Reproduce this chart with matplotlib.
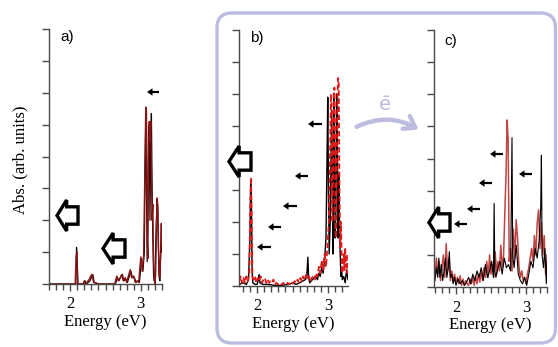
import matplotlib.pyplot as plt
from matplotlib.patches import Polygon, FancyBboxPatch, FancyArrowPatch, FancyArrow
from matplotlib.ticker import MultipleLocator

W, H = 558, 347

# ---- panel a) spectra ----
ea_red = [1.70, 2.07, 2.085, 2.095, 2.105, 2.18, 2.20, 2.22, 2.27, 2.29, 2.31, 2.33, 2.40, 2.63,
          2.66, 2.68, 2.71, 2.73, 2.75, 2.78, 2.80, 2.83, 2.85, 2.87, 2.90, 2.92, 2.95, 2.97, 2.99,
          3.00, 3.02, 3.04, 3.06, 3.07, 3.08, 3.09, 3.10, 3.11, 3.12, 3.13, 3.14, 3.15, 3.16, 3.17,
          3.18, 3.19, 3.20, 3.21, 3.23, 3.24, 3.25, 3.26, 3.27, 3.28, 3.29, 3.30]
ia_red = [0, 0, 0.9, 1.0, 0, 0, 0.1, 0, 0.15, 0.25, 0.3, 0.05, 0, 0,
          0.25, 0.1, 0.2, 0.3, 0.1, 0.2, 0.05, 0.3, 0.45, 0.2, 0.25, 0.05, 0.1, 0.05, 0.6,
          0.85, 0.4, 0.9, 4.0, 5.55, 5.4, 1.5, 0.8, 4.0, 5.1, 4.5, 5.1, 3.5, 2.0, 2.5,
          0.8, 0.2, 0.0, 0.3, 2.7, 2.5, 1.2, 0.3, 0.2, 1.0, 1.9, 1.2]
ea_blk = [1.70, 2.08, 2.09, 2.10, 2.11, 2.19, 2.21, 2.23, 2.28, 2.30, 2.32, 2.34, 2.41, 2.64,
          2.67, 2.69, 2.72, 2.74, 2.76, 2.79, 2.81, 2.84, 2.86, 2.88, 2.91, 2.93, 2.96, 2.98, 3.00,
          3.01, 3.03, 3.05, 3.06, 3.07, 3.08, 3.09, 3.10, 3.11, 3.12, 3.13, 3.14, 3.15, 3.16, 3.17,
          3.18, 3.19, 3.20, 3.22, 3.23, 3.24, 3.25, 3.26, 3.27, 3.28, 3.29, 3.30]
ia_blk = [0, 0, 1.15, 0.7, 0, 0, 0.1, 0, 0.1, 0.2, 0.3, 0.05, 0, 0,
          0.2, 0.1, 0.25, 0.3, 0.1, 0.15, 0.05, 0.25, 0.4, 0.2, 0.2, 0.05, 0.1, 0.05, 0.5,
          0.8, 0.4, 1.0, 3.5, 5.2, 3.0, 0.7, 3.0, 4.8, 5.0, 2.0, 4.5, 5.35, 3.0, 1.5,
          0.3, 0.1, 0.2, 2.0, 2.6, 2.4, 1.0, 0.2, 0.1, 0.8, 1.7, 1.0]

# ---- panel b) spectra ----
eb_red = [1.75, 1.77, 1.79, 1.81, 1.83, 1.85, 1.87, 1.89, 1.905, 1.915, 1.925, 1.935, 1.95,
          1.97, 1.99, 2.01, 2.03, 2.05, 2.07, 2.09, 2.11, 2.13, 2.15, 2.17, 2.19, 2.21, 2.23,
          2.25, 2.27, 2.29, 2.31, 2.33, 2.35, 2.37, 2.39, 2.41, 2.43, 2.45, 2.47, 2.49, 2.51,
          2.53, 2.55, 2.57, 2.59, 2.61, 2.63, 2.65, 2.67, 2.69, 2.71, 2.73, 2.75, 2.77, 2.79,
          2.81, 2.83, 2.85, 2.87, 2.89, 2.91, 2.93, 2.95, 2.97, 2.99, 3.01, 3.03,
          3.04, 3.05, 3.06, 3.07, 3.08, 3.09, 3.10, 3.11, 3.12, 3.13, 3.14, 3.15, 3.16, 3.17,
          3.18, 3.19, 3.20, 3.21, 3.22, 3.23, 3.24, 3.25, 3.26, 3.27, 3.28]
ib_red = [0.15, 0.3, 0.1, 0.25, 0.1, 0.3, 0.15, 0.4, 2.5, 3.4, 2.0, 0.3, 0.2,
          0.3, 0.1, 0.25, 0.15, 0.3, 0.1, 0.2, 0.25, 0.1, 0.2, 0.1, 0.15, 0.1, 0.2,
          0.05, 0.1, 0.05, 0.1, 0.05, 0.05, 0.1, 0.05, 0.05, 0.1, 0.05, 0.1, 0.05, 0.1,
          0.15, 0.1, 0.2, 0.1, 0.25, 0.15, 0.3, 0.2, 0.35, 0.2, 0.3, 0.15, 0.25, 0.3,
          0.2, 0.4, 0.3, 0.6, 0.4, 0.8, 0.5, 1.0, 0.6, 1.2, 2.0, 4.5,
          6.0, 5.5, 2.0, 3.5, 6.1, 6.2, 4.0, 1.5, 3.0, 5.8, 6.5, 6.3, 3.0, 1.2,
          2.0, 1.0, 0.4, 0.8, 1.0, 0.5, 1.2, 0.6, 1.0, 0.4, 0.7]
eb_blk = [1.75, 1.80, 1.85, 1.88, 1.90, 1.91, 1.92, 1.93, 1.94, 1.97, 2.00, 2.02, 2.03, 2.04,
          2.08, 2.15, 2.25, 2.35, 2.45, 2.50, 2.55, 2.60, 2.64, 2.68, 2.70, 2.715, 2.725, 2.74,
          2.78, 2.82, 2.85, 2.87, 2.89, 2.91, 2.93, 2.95, 2.97, 2.985, 2.995, 3.005, 3.015,
          3.03, 3.05, 3.06, 3.07, 3.08, 3.09, 3.10, 3.11, 3.12, 3.13, 3.14, 3.15, 3.16, 3.17,
          3.18, 3.19, 3.20, 3.22, 3.24, 3.26, 3.28]
ib_blk = [0.05, 0.1, 0.05, 0.2, 1.5, 3.3, 2.8, 0.5, 0.1, 0.05, 0.05, 0.2, 0.35, 0.1,
          0.05, 0.05, 0.02, 0.02, 0.05, 0.1, 0.05, 0.1, 0.15, 0.2, 0.3, 0.9, 0.3, 0.1,
          0.2, 0.3, 0.2, 0.4, 0.3, 0.6, 0.4, 0.8, 1.5, 4.0, 5.9, 3.0, 1.0,
          2.0, 5.5, 3.0, 1.0, 6.0, 4.0, 1.5, 2.5, 6.0, 5.0, 1.5, 3.5, 2.0, 1.0,
          0.3, 0.5, 0.2, 0.3, 0.1, 0.5, 0.2]

# ---- panel c) spectra ----
ec_red = [1.70, 1.72, 1.74, 1.76, 1.78, 1.80, 1.82, 1.84, 1.86, 1.88, 1.90, 1.92, 1.94, 1.96,
          1.98, 2.00, 2.02, 2.04, 2.06, 2.08, 2.10, 2.12, 2.14, 2.16, 2.18, 2.20, 2.22, 2.24,
          2.26, 2.28, 2.30, 2.32, 2.34, 2.36, 2.38, 2.40, 2.42, 2.44, 2.46, 2.48, 2.50, 2.52,
          2.54, 2.56, 2.58, 2.60, 2.62, 2.64, 2.66, 2.68, 2.70, 2.715, 2.73, 2.745, 2.76,
          2.78, 2.80, 2.82, 2.84, 2.86, 2.88, 2.90, 2.92, 2.94, 2.96, 2.98, 3.00, 3.02, 3.04,
          3.06, 3.08, 3.10, 3.12, 3.14, 3.16, 3.18, 3.20, 3.22, 3.24, 3.26, 3.28, 3.30]
ic_red = [0.3, 0.9, 0.4, 0.8, 0.2, 0.6, 1.0, 0.3, 1.35, 0.5, 0.9, 0.2, 0.5, 0.15,
          0.4, 0.1, 0.3, 0.1, 0.35, 0.05, 0.25, 0.05, 0.2, 0.1, 0.05, 0.25, 0.1, 0.3,
          0.05, 0.35, 0.1, 0.4, 0.15, 0.5, 0.2, 0.6, 0.3, 0.8, 0.3, 1.0, 0.4, 0.7,
          0.3, 1.1, 0.4, 0.8, 0.5, 1.3, 0.6, 1.0, 2.5, 3.5, 5.2, 4.6, 0.8,
          1.2, 0.5, 1.8, 0.9, 2.1, 1.5, 0.6, 0.3, 0.5, 0.2, 0.3, 0.1, 0.4, 0.6,
          0.9, 1.2, 0.8, 1.6, 1.0, 2.0, 2.4, 1.2, 2.0, 1.0, 1.6, 0.4, 1.0]
ec_blk = [1.70, 1.72, 1.74, 1.755, 1.77, 1.79, 1.81, 1.83, 1.85, 1.87, 1.89, 1.905, 1.92, 1.94,
          1.96, 1.98, 2.00, 2.03, 2.06, 2.09, 2.12, 2.15, 2.18, 2.21, 2.24, 2.27, 2.30, 2.33,
          2.36, 2.39, 2.42, 2.45, 2.48, 2.51, 2.535, 2.545, 2.555, 2.57, 2.60, 2.63, 2.66, 2.69,
          2.72, 2.75, 2.78, 2.79, 2.80, 2.81, 2.83, 2.86, 2.89, 2.92, 2.95, 2.98, 3.01, 3.04,
          3.07, 3.10, 3.13, 3.16, 3.19, 3.21, 3.22, 3.23, 3.25, 3.27, 3.29, 3.30]
ic_blk = [0.2, 0.6, 0.3, 0.9, 0.3, 0.7, 0.2, 0.5, 0.9, 0.3, 0.6, 1.1, 0.3, 0.4,
          0.1, 0.3, 0.05, 0.25, 0.1, 0.2, 0.05, 0.15, 0.3, 0.1, 0.4, 0.2, 0.5, 0.3,
          0.6, 0.2, 0.7, 0.3, 0.5, 0.8, 0.3, 2.6, 0.5, 0.3, 0.6, 0.8, 0.4, 0.9,
          0.6, 0.7, 0.5, 2.5, 4.65, 1.0, 0.6, 1.3, 0.4, 0.2, 0.1, 0.3, 0.05, 0.4,
          0.8, 0.6, 1.2, 0.9, 1.5, 2.5, 4.1, 1.0, 0.6, 1.2, 0.1, 0.8]

panel_labels = ['a)', 'b)', 'c)']
xlabel = 'Energy (eV)'
ylabel = 'Abs. (arb. units)'
electron = r'$\bar{\mathrm{e}}$'

SERIF = 'Liberation Serif'
SANS = 'Liberation Sans'
SPINE = '#4a4a4a'
LAV = '#bcbce0'

plt.rcParams['mathtext.fontset'] = 'dejavusans'

fig = plt.figure(figsize=(W / 100, H / 100), dpi=100)


def px_axes(l, r, t, b):
    return fig.add_axes([l / W, 1 - b / H, (r - l) / W, (b - t) / H])


def style(ax, xlim):
    ax.set_xlim(*xlim)
    ax.set_ylim(0, 8)
    for s in ['top', 'right']:
        ax.spines[s].set_visible(False)
    for s in ['left', 'bottom']:
        ax.spines[s].set_color(SPINE)
        ax.spines[s].set_linewidth(1)
    ax.xaxis.set_major_locator(MultipleLocator(1))
    ax.xaxis.set_minor_locator(MultipleLocator(0.1))
    ax.yaxis.set_major_locator(MultipleLocator(1))
    ax.tick_params(axis='x', which='major', direction='out', length=5, width=1, color=SPINE, pad=4)
    ax.tick_params(axis='x', which='minor', direction='out', length=4, width=1, color=SPINE)
    ax.tick_params(axis='y', which='major', direction='out', length=5, width=1, color=SPINE,
                   labelleft=False)
    for lab in ax.get_xticklabels():
        lab.set_fontfamily(SERIF)
        lab.set_fontsize(12)
    ax.set_xlabel(xlabel, fontfamily=SERIF, fontsize=12, labelpad=1)
    ax.patch.set_alpha(0)


ax_a = px_axes(49, 162, 29, 284)
ax_a.plot(ea_blk, ia_blk, color='#150000', lw=0.9)
ax_a.plot(ea_red, ia_red, color='#8a1414', lw=1.0)
style(ax_a, (1.70, 3.30))

ax_b = px_axes(239, 348, 30, 286)
ax_b.plot(eb_blk, ib_blk, color='black', lw=1.0)
ax_b.plot(eb_red, ib_red, color='#e01818', lw=1.3, ls=(0, (3, 1.5)))
style(ax_b, (1.746, 3.28))

ax_c = px_axes(434, 547, 30, 287)
ax_c.plot(ec_red, ic_red, color='#c04545', lw=1.1)
ax_c.plot(ec_blk, ic_blk, color='black', lw=0.8)
style(ax_c, (1.686, 3.30))

# ---- overlay in pixel coordinates ----
ov = fig.add_axes([0, 0, 1, 1], zorder=10)
ov.set_xlim(0, W)
ov.set_ylim(H, 0)
ov.axis('off')
ov.patch.set_alpha(0)

ov.add_patch(FancyBboxPatch((217, 13), 338.5, 330, boxstyle='round,pad=0,rounding_size=15',
                            fc='none', ec=LAV, lw=2.4))

ov.text(20, 160, ylabel, rotation=90, ha='center', va='center', fontfamily=SERIF, fontsize=12)
for (x, y), t in zip([(67, 37), (257, 38), (451, 41)], panel_labels):
    ov.text(x, y, t, ha='center', va='center', fontfamily=SANS, fontsize=11)

# electron transfer arrow
ov.add_patch(FancyArrowPatch((354, 128), (421, 131), connectionstyle='arc3,rad=-0.28',
                             arrowstyle='->,head_length=5,head_width=3.5', lw=3.2, color=LAV,
                             mutation_scale=1.5, capstyle='round'))
ov.text(385, 105, electron, ha='center', va='center', fontsize=14, color=LAV)


def hollow_arrow(x0, x1, y0, y1):
    yc = (y0 + y1) / 2
    xh = x0 + 0.46 * (x1 - x0)
    sh = 0.28 * (y1 - y0)
    pts = [(x0, yc), (xh, y0), (xh, yc - sh), (x1, yc - sh), (x1, yc + sh), (xh, yc + sh), (xh, y1)]
    ov.add_patch(Polygon(pts, closed=True, fc='white', ec='black', lw=2.4, joinstyle='miter'))


def small_arrow(x_tail, x_tip, y):
    ov.add_patch(FancyArrow(x_tail, y, x_tip - x_tail, 0, width=2.2, head_width=7.5,
                            head_length=5.5, length_includes_head=True, fc='black', ec='black', lw=0))


for box in [(57, 78, 200, 231), (103, 125, 233, 264), (229, 251, 146, 177), (429, 450, 207, 238)]:
    hollow_arrow(*box)

for x_tail, x_tip, y in [(159, 147, 92),
                         (322, 308, 124), (308, 295, 176), (297, 283, 206), (281, 268, 227), (271, 257, 247),
                         (503, 490, 154), (492, 479, 183), (480, 467, 209), (467, 454, 224), (532, 519, 174)]:
    small_arrow(x_tail, x_tip, y)

fig.savefig('out.png', dpi=100)
